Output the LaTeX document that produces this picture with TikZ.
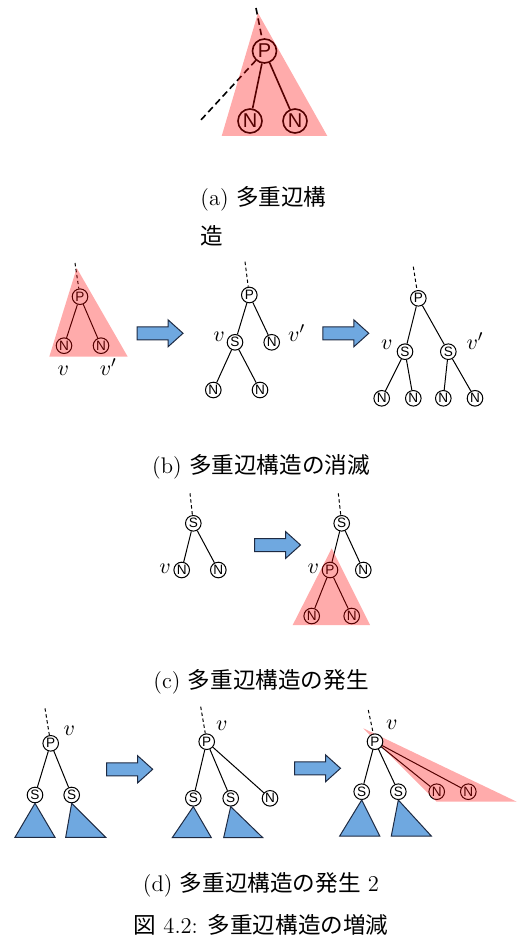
\documentclass[tikz,border=0pt]{standalone}
\usepackage{fontspec}
\newfontfamily\jpfont{Noto Sans CJK JP}
\newfontfamily\labfont{Liberation Sans}
\definecolor{ueAzul}{RGB}{111,168,224}
\definecolor{ueBorde}{RGB}{30,42,66}

\newcommand{\flechagorda}[1]{%
  \draw[flecha, shift={(#1)}] (-23,-6.5) -- (8,-6.5) -- (8,-13.5) -- (23,0)
    -- (8,13.5) -- (8,6.5) -- (-23,6.5) -- cycle;}

\begin{document}
\begin{tikzpicture}[x=0.5pt, y=-0.5pt,
     font=\fontsize{11.3}{13.6}\selectfont,
     nodo/.style={circle, draw, line width=0.5pt, fill=white, inner sep=0pt,
                  minimum size=7.8pt, font=\labfont\fontsize{6.8}{7}\selectfont},
     nodog/.style={nodo, line width=0.8pt, minimum size=12pt,
                   font=\labfont\fontsize{10}{10}\selectfont},
     ar/.style={line width=0.5pt},
     arg/.style={line width=0.8pt},
     punt/.style={line width=0.5pt, dash pattern=on 1.7pt off 1.3pt},
     puntg/.style={line width=0.8pt, dash pattern=on 3.3pt off 2pt},
     rojo/.style={fill=red, fill opacity=0.33},
     sub/.style={draw=ueBorde, fill=ueAzul, line width=0.5pt},
     flecha/.style={draw=ueBorde, fill=ueAzul, line width=0.5pt},
     etq/.style={anchor=base, inner sep=0pt},
     leyenda/.style={inner sep=0pt}]
\useasboundingbox (0,0) rectangle (517,946);

% (a)
\node[nodog] (pa) at (264.5,51) {P};
\node[nodog] (na1) at (250,121) {N};
\node[nodog] (na2) at (295,121) {N};
\coordinate (ta) at (256,8);
\coordinate (la) at (200,121);
\draw[arg] (pa) -- (na1);
\draw[arg] (pa) -- (na2);
\draw[puntg] (ta) -- (pa);
\draw[puntg] (pa) -- (la);
\fill[rojo] (258,13) -- (221.7,136) -- (327.3,136) -- cycle;
\node[leyenda, anchor=north west, align=left] (capa) at (200,186)
  {(a) {\jpfont 多重辺構}\\[6pt]{\jpfont 造}};

% (b)
\node[nodo] (pb1) at (80,296.7) {P};
\node[nodo] (nb1) at (64,345.7) {N};
\node[nodo] (nb2) at (101,345.7) {N};
\coordinate (tb1) at (75,263);
\draw[ar] (pb1) -- (nb1);
\draw[ar] (pb1) -- (nb2);
\draw[punt] (tb1) -- (pb1);
\fill[rojo] (76.7,268) -- (49.3,356.7) -- (127.7,356.7) -- cycle;
\node[etq] (vb1) at (63.3,375) {$v$};
\node[etq] (vb2) at (108.3,375) {$v'$};

\coordinate (fb1) at (160,333.3);
\flechagorda{fb1}

\node[nodo] (pb2) at (249.3,295) {P};
\node[nodo] (sb1) at (235,342.3) {S};
\node[nodo] (nb3) at (271.7,342.3) {N};
\node[nodo] (nb4) at (213.3,390) {N};
\node[nodo] (nb5) at (260,390) {N};
\coordinate (tb2) at (245,261.7);
\draw[ar] (pb2) -- (sb1);
\draw[ar] (pb2) -- (nb3);
\draw[ar] (sb1) -- (nb4);
\draw[ar] (sb1) -- (nb5);
\draw[punt] (tb2) -- (pb2);
\node[etq] (vb3) at (219,341.7) {$v$};
\node[etq] (vb4) at (296.7,341.7) {$v'$};

\coordinate (fb2) at (345.8,333.3);
\flechagorda{fb2}

\node[nodo] (pb3) at (418.3,298.3) {P};
\node[nodo] (sb2) at (405,351.7) {S};
\node[nodo] (sb3) at (448.3,351.7) {S};
\node[nodo] (nb6) at (381.7,398.3) {N};
\node[nodo] (nb7) at (413.3,398.3) {N};
\node[nodo] (nb8) at (443.3,398.3) {N};
\node[nodo] (nb9) at (475,398.3) {N};
\coordinate (tb3) at (413.3,266.7);
\draw[ar] (pb3) -- (sb2);
\draw[ar] (pb3) -- (sb3);
\draw[ar] (sb2) -- (nb6);
\draw[ar] (sb2) -- (nb7);
\draw[ar] (sb3) -- (nb8);
\draw[ar] (sb3) -- (nb9);
\draw[punt] (tb3) -- (pb3);
\node[etq] (vb5) at (386.7,349.3) {$v$};
\node[etq] (vb6) at (475,349.3) {$v'$};

\node[leyenda] (capb) at (261,467) {(b) {\jpfont 多重辺構造の消滅}};

% (c)
\node[nodo] (sc1) at (193.3,523.3) {S};
\node[nodo] (nc1) at (181.7,570) {N};
\node[nodo] (nc2) at (218.3,570) {N};
\coordinate (tc1) at (190,493.3);
\draw[ar] (sc1) -- (nc1);
\draw[ar] (sc1) -- (nc2);
\draw[punt] (tc1) -- (sc1);
\node[etq] (vc1) at (165,573.3) {$v$};

\coordinate (fc1) at (277.5,545);
\flechagorda{fc1}

\node[nodo] (sc2) at (341.7,523.3) {S};
\node[nodo] (pc) at (330,570) {P};
\node[nodo] (nc3) at (363.3,570) {N};
\node[nodo] (nc4) at (311.7,616) {N};
\node[nodo] (nc5) at (351.7,616) {N};
\coordinate (tc2) at (338.3,493.3);
\draw[ar] (sc2) -- (pc);
\draw[ar] (sc2) -- (nc3);
\draw[ar] (pc) -- (nc4);
\draw[ar] (pc) -- (nc5);
\draw[punt] (tc2) -- (sc2);
\fill[rojo] (331.7,548.3) -- (292.7,625) -- (370,625) -- cycle;
\node[etq] (vc2) at (313.3,573.3) {$v$};

\node[leyenda] (capc) at (261,682) {(c) {\jpfont 多重辺構造の発生}};

% (d)
\node[nodo] (pd1) at (50.7,743.3) {P};
\node[nodo] (sd1) at (35,795) {S};
\node[nodo] (sd2) at (71.7,795) {S};
\coordinate (td1) at (45,708.3);
\draw[ar] (pd1) -- (sd1);
\draw[ar] (pd1) -- (sd2);
\draw[punt] (td1) -- (pd1);
\draw[sub] (sd1.south) -- ++(-20,34) -- ++(40,0) -- cycle;
\draw[sub] (sd2.south) -- ++(-6,34) -- ++(40,0) -- cycle;
\node[etq] (vd1) at (69.3,735) {$v$};

\coordinate (fd1) at (129.7,769.3);
\flechagorda{fd1}

\node[nodo] (pd2) at (206.7,741.7) {P};
\node[nodo] (sd3) at (193.3,798.3) {S};
\node[nodo] (sd4) at (230.7,798.3) {S};
\node[nodo] (nd1) at (270,798.3) {N};
\coordinate (td2) at (200.7,706.7);
\draw[ar] (pd2) -- (sd3);
\draw[ar] (pd2) -- (sd4);
\draw[ar] (pd2) -- (nd1);
\draw[punt] (td2) -- (pd2);
\draw[sub] (sd3.south) -- ++(-21,31) -- ++(39,0) -- cycle;
\draw[sub] (sd4.south) -- ++(-7,31) -- ++(39,0) -- cycle;
\node[etq] (vd2) at (221.7,730) {$v$};

\coordinate (fd2) at (317.5,768.3);
\flechagorda{fd2}

\coordinate (pd3c) at (375,741.7);
\node[nodo] (sd5) at (361.7,791.7) {S};
\node[nodo] (sd6) at (398.3,791.7) {S};
\node[nodo] (nd2) at (436.7,791.7) {N};
\node[nodo] (nd3) at (468.3,791.7) {N};
\coordinate (td3) at (368.3,710);
\draw[ar] (pd3c) -- (sd5);
\draw[ar] (pd3c) -- (sd6);
\draw[ar] (pd3c) -- (nd2);
\draw[ar] (pd3c) -- (nd3);
\draw[sub] (sd5.south) -- ++(-22,36) -- ++(40,0) -- cycle;
\draw[sub] (sd6.south) -- ++(-7,36) -- ++(40,0) -- cycle;
\fill[rojo] (363.3,728.3) -- (516.7,801.7) -- (436.7,801.7) -- cycle;
\node[nodo] (pd3) at (pd3c) {P};
\draw[punt] (td3) -- (pd3);
\node[etq] (vd3) at (391.7,729) {$v$};

\node[leyenda] (capd) at (261,885) {(d) {\jpfont 多重辺構造の発生} 2};
\node[leyenda] (fig) at (261,925) {{\jpfont 図} 4.2: {\jpfont 多重辺構造の増減}};
\end{tikzpicture}
\end{document}
